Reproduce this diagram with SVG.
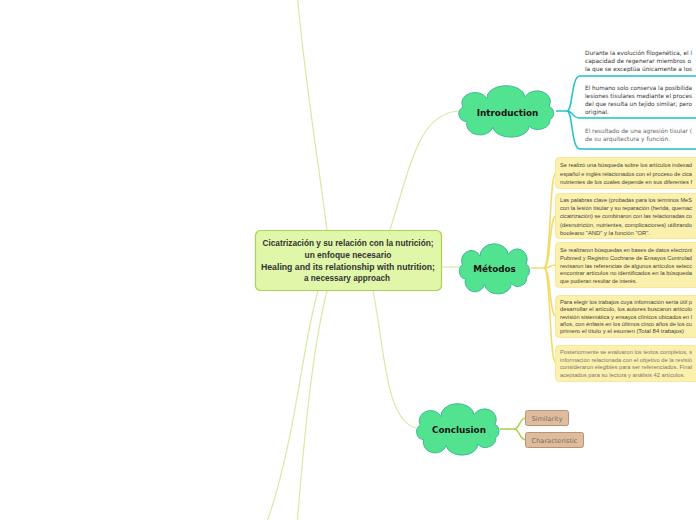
<svg xmlns="http://www.w3.org/2000/svg" width="696" height="520" viewBox="0 0 696 520">
<style>
.bg{fill:#ffffff}
.main{fill:none;stroke:#d7e9a6;stroke-width:1.2}
.teal{fill:none;stroke:#22bfcb;stroke-width:1.5}
.yel{fill:none;stroke:#f4d964;stroke-width:1.5}
.grn{fill:none;stroke:#a9d24a;stroke-width:1.5}
.cloud{fill:#52e391;stroke:#3dbb93;stroke-width:1}
.ctitle{font-family:"DejaVu Sans",Verdana,sans-serif;font-weight:bold;font-size:8.8px;fill:#111;text-anchor:middle}
.center{fill:#e0f6a9;stroke:#a9d15a;stroke-width:1.2}
.ctext{font-family:"Liberation Sans",Arial,sans-serif;font-weight:bold;font-size:8.5px;fill:#333;text-anchor:middle}
.itext{font-family:"DejaVu Sans",Verdana,sans-serif;font-size:5.9px;fill:#333}
.ybox{fill:#fcf1ac;stroke:#f5e38e;stroke-width:0.8}
.mtext{font-family:"Liberation Sans",Arial,sans-serif;font-size:6px;fill:#444}
.tan{fill:#dfbd9c;stroke:#b99476;stroke-width:1}
.ttext{font-family:"DejaVu Sans",Verdana,sans-serif;font-size:6.6px;fill:#7d6b5d;text-anchor:middle}
</style>
<defs>
<path id="cloudShape" vector-effect="non-scaling-stroke" d="M6,16 A12,10 0 0 1 30,7 A18,12 0 0 1 68,5 A12,10 0 0 1 92,15 A8,8 0 0 1 93,29 A12,10 0 0 1 72,36 A18,11 0 0 1 36,37 A12,10 0 0 1 10,31 A8,8 0 0 1 6,16 Z"/>
</defs>
<rect class="bg" x="0" y="0" width="696" height="520"/>

<g id="connectors">
  <path class="main" d="M327,230 C318,160 302,60 297,-10"/>
  <path class="main" d="M390,230 C412,160 420,112 460,111"/>
  <path class="main" d="M441,267 L462,267"/>
  <path class="main" d="M373,291 C385,350 385,420 416,428"/>
  <path class="main" d="M318,291 C302,345 296,440 266,525"/>
  <path class="main" d="M327,291 C312,350 304,440 297,525"/>
  <path class="teal" d="M556,111 L567,111"/>
  <path class="teal" d="M567,111 C573,111 571,76 580,76 L696,76"/>
  <path class="teal" d="M567,111 C573,111 572,118 580,118 L696,118"/>
  <path class="teal" d="M567,111 C573,111 571,149 580,149 L696,149"/>
  <path class="yel" d="M531,268 L544,268"/>
  <path class="yel" d="M544,268 C551,268 549,173 556,173"/>
  <path class="yel" d="M544,268 C551,268 549,216 556,216"/>
  <path class="yel" d="M544,268 C551,268 549,265 556,265"/>
  <path class="yel" d="M544,268 C551,268 549,316 556,316"/>
  <path class="yel" d="M544,268 C551,268 549,363 556,363"/>
  <path class="grn" d="M500,429 L514,429"/>
  <path class="grn" d="M514,429 C520,429 519,418 526,418"/>
  <path class="grn" d="M514,429 C520,429 519,440 526,440"/>
</g>

<g id="central">
  <rect class="center" x="255.5" y="230.5" width="186" height="60" rx="5"/>
  <text class="ctext" x="348" y="246" textLength="171" lengthAdjust="spacingAndGlyphs">Cicatrización y su relación con la nutrición;</text>
  <text class="ctext" x="348" y="258" textLength="87" lengthAdjust="spacingAndGlyphs">un enfoque necesario</text>
  <text class="ctext" x="348" y="270" textLength="174" lengthAdjust="spacingAndGlyphs">Healing and its relationship with nutrition;</text>
  <text class="ctext" x="347" y="281" textLength="86" lengthAdjust="spacingAndGlyphs">a necessary approach</text>
</g>

<g id="introduction">
  <use href="#cloudShape" class="cloud" transform="translate(457,92) scale(1.0,0.95)"/>
  <text class="ctitle" x="507.5" y="116">Introduction</text>
</g>

<g id="intro-1">
  <text class="itext" x="585" y="55" textLength="107" lengthAdjust="spacingAndGlyphs">Durante la evolución filogenética, el l</text>
  <text class="itext" x="585" y="63" textLength="106" lengthAdjust="spacingAndGlyphs">capacidad de regenerar miembros o</text>
  <text class="itext" x="585" y="71" textLength="107" lengthAdjust="spacingAndGlyphs">la que se exceptúa únicamente a los</text>
</g>
<g id="intro-2">
  <text class="itext" x="585" y="90" textLength="107" lengthAdjust="spacingAndGlyphs">El humano solo conserva la posibilida</text>
  <text class="itext" x="585" y="98" textLength="107" lengthAdjust="spacingAndGlyphs">lesiones tisulares mediante el proces</text>
  <text class="itext" x="585" y="106" textLength="107" lengthAdjust="spacingAndGlyphs">del que resulta un tejido similar, pero</text>
  <text class="itext" x="585" y="114">original.</text>
</g>
<g id="intro-3">
  <text class="itext" x="585" y="133" textLength="107" lengthAdjust="spacingAndGlyphs" style="fill:#666">El resultado de una agresión tisular (</text>
  <text class="itext" x="585" y="141" style="fill:#666">de su arquitectura y función.</text>
</g>

<g id="metodos">
  <use href="#cloudShape" class="cloud" transform="translate(458,250) scale(0.74,0.925)"/>
  <text class="ctitle" x="494.5" y="271.5">Métodos</text>
</g>

<g id="met-1">
  <rect class="ybox" x="555.5" y="157.5" width="150" height="31" rx="4"/>
  <text class="mtext" x="560" y="167" textLength="132" lengthAdjust="spacingAndGlyphs">Se realizó una búsqueda sobre los artículos indexad</text>
  <text class="mtext" x="560" y="175.5" textLength="132" lengthAdjust="spacingAndGlyphs">español e inglés relacionados con el proceso de cica</text>
  <text class="mtext" x="560" y="184" textLength="132" lengthAdjust="spacingAndGlyphs">nutrientes de los cuales depende en sus diferentes f</text>
</g>
<g id="met-2">
  <rect class="ybox" x="555.5" y="193.5" width="150" height="45" rx="4"/>
  <text class="mtext" x="560" y="202" textLength="132" lengthAdjust="spacingAndGlyphs">Las palabras clave (probadas para los términos MeS</text>
  <text class="mtext" x="560" y="210" textLength="132" lengthAdjust="spacingAndGlyphs">con la lesión tisular y su reparación (herida, quemac</text>
  <text class="mtext" x="560" y="218" textLength="132" lengthAdjust="spacingAndGlyphs">cicatrización) se combinaron con las relacionadas co</text>
  <text class="mtext" x="560" y="226.5" textLength="132" lengthAdjust="spacingAndGlyphs">(desnutrición, nutrientes, complicaciones) utilizando</text>
  <text class="mtext" x="560" y="234.5" textLength="90" lengthAdjust="spacingAndGlyphs">booleano "AND" y la función "OR".</text>
</g>
<g id="met-3">
  <rect class="ybox" x="555.5" y="242.5" width="150" height="45" rx="4"/>
  <text class="mtext" x="560" y="252" textLength="132" lengthAdjust="spacingAndGlyphs">Se realizaron búsquedas en bases de datos electróni</text>
  <text class="mtext" x="560" y="260" textLength="132" lengthAdjust="spacingAndGlyphs">Pubmed y Registro Cochrane de Ensayos Controlad</text>
  <text class="mtext" x="560" y="267.5" textLength="132" lengthAdjust="spacingAndGlyphs">revisaron las referencias de algunos artículos selecc</text>
  <text class="mtext" x="560" y="275" textLength="132" lengthAdjust="spacingAndGlyphs">encontrar artículos no identificados en la búsqueda</text>
  <text class="mtext" x="560" y="283" textLength="77" lengthAdjust="spacingAndGlyphs">que pudieran resultar de interés.</text>
</g>
<g id="met-4">
  <rect class="ybox" x="555.5" y="295.5" width="150" height="42" rx="4"/>
  <text class="mtext" x="560" y="303.5" textLength="132" lengthAdjust="spacingAndGlyphs">Para elegir los trabajos cuya información sería útil p</text>
  <text class="mtext" x="560" y="311" textLength="132" lengthAdjust="spacingAndGlyphs">desarrollar el artículo, los autores buscaron artículo</text>
  <text class="mtext" x="560" y="318.5" textLength="132" lengthAdjust="spacingAndGlyphs">revisión sistemática y ensayos clínicos ubicados en l</text>
  <text class="mtext" x="560" y="326" textLength="132" lengthAdjust="spacingAndGlyphs">años, con énfasis en los últimos cinco años de los cu</text>
  <text class="mtext" x="560" y="333" textLength="124" lengthAdjust="spacingAndGlyphs">primero el título y el esumen (Total 84 trabajos)</text>
</g>
<g id="met-5">
  <rect class="ybox" x="555.5" y="345.5" width="150" height="36" rx="4"/>
  <text class="mtext" x="560" y="354" textLength="132" lengthAdjust="spacingAndGlyphs" style="fill:#777">Posteriormente se evaluaron los textos completos, s</text>
  <text class="mtext" x="560" y="361.5" textLength="132" lengthAdjust="spacingAndGlyphs" style="fill:#777">información relacionada con el objetivo de la revisió</text>
  <text class="mtext" x="560" y="369" textLength="132" lengthAdjust="spacingAndGlyphs" style="fill:#777">consideraron elegibles para ser referenciados. Final</text>
  <text class="mtext" x="560" y="376.5" textLength="125" lengthAdjust="spacingAndGlyphs" style="fill:#777">aceptados para su lectura y análisis 42 artículos.</text>
</g>

<g id="conclusion">
  <use href="#cloudShape" class="cloud" transform="translate(415,410) scale(0.87,0.95)"/>
  <text class="ctitle" x="459" y="432.5">Conclusion</text>
</g>
<g id="similarity">
  <rect class="tan" x="525.5" y="410.5" width="43" height="15" rx="2"/>
  <text class="ttext" x="547" y="420.5">Similarity</text>
</g>
<g id="characteristic">
  <rect class="tan" x="525.5" y="432.5" width="58" height="15" rx="2"/>
  <text class="ttext" x="554.5" y="442.5">Characteristic</text>
</g>
</svg>
